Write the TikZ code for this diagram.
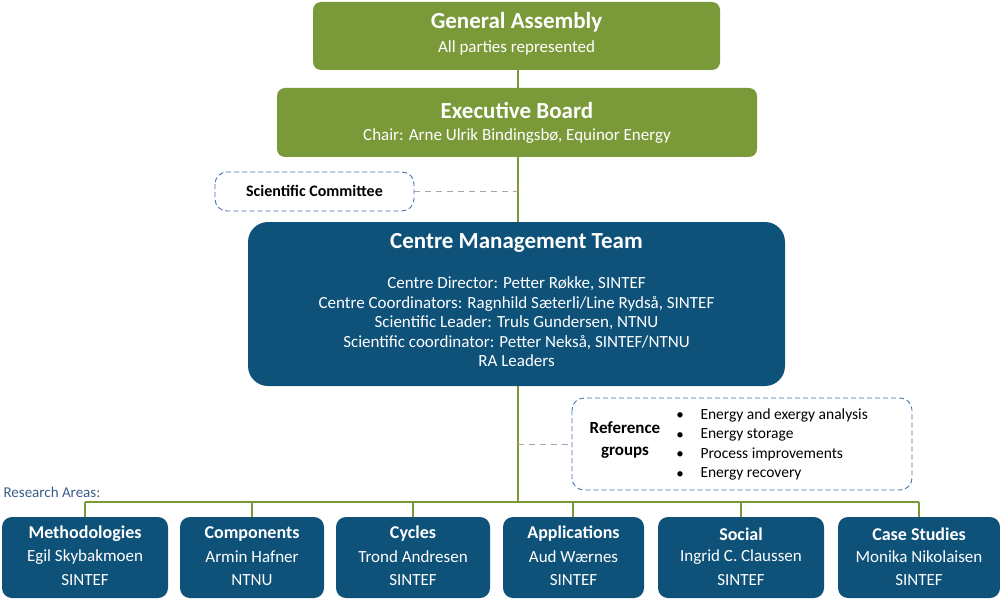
\documentclass[tikz,border=0pt]{standalone}
\usepackage{fontspec}
\setmainfont{Carlito}
\begin{document}
\begin{tikzpicture}[x=1pt,y=-1pt,
  gbox/.style={fill=grn,rounded corners=8pt,text=white,align=center,inner sep=0pt},
  bbox/.style={fill=blu,rounded corners=10pt,text=white,align=center,inner sep=0pt},
  dbox/.style={draw=dblu,dashed,fill=white,rounded corners=12pt,line width=0.9pt,dash pattern=on 5pt off 3pt},
  conn/.style={draw=grn,line width=1.6pt},
  dconn/.style={draw=gray!70,line width=1pt,dash pattern=on 6pt off 5pt}]
\definecolor{grn}{HTML}{7A9A3A}
\definecolor{blu}{HTML}{0E5179}
\definecolor{dblu}{HTML}{4A72B0}
\useasboundingbox (0,0) rectangle (1000,604);
% connectors
\draw[conn] (518,70) -- (518,502);
\draw[conn] (85,502) -- (919,502);
\foreach \x in {85,252,413,573,741,919} \draw[conn] (\x,502) -- (\x,517);
\coordinate (sc) at (518,191);
\coordinate (rg) at (518,444);
% boxes
\node[gbox,minimum width=407pt,minimum height=68pt] (ga) at (516.5,36) {};
\node[font=\bfseries\fontsize{23}{26}\selectfont,text=white] at (516.5,22) {General Assembly};
\node[font=\fontsize{17}{20}\selectfont,text=white] at (516.5,48) {All parties represented};
\node[gbox,minimum width=480pt,minimum height=69pt] (eb) at (517,122.5) {};
\node[font=\bfseries\fontsize{23}{26}\selectfont,text=white] at (517,110) {Executive Board};
\node[font=\fontsize{17}{20}\selectfont,text=white] at (517,136) {Chair: Arne Ulrik Bindingsbø, Equinor Energy};
\draw[dconn] (414,191) -- (sc);
\draw[dbox] (215,172) rectangle (414,211);
\node[font=\bfseries\fontsize{16}{19}\selectfont] (scn) at (314.5,191) {Scientific Committee};
\node[bbox,rounded corners=20pt,minimum width=537pt,minimum height=164pt] (cmt) at (516.5,304) {};
\node[font=\bfseries\fontsize{23}{26}\selectfont,text=white] at (516.5,243) {Centre Management Team};
\node[font=\fontsize{17}{19.5}\selectfont,text=white,align=center] at (516.5,322) {Centre Director: Petter Røkke, SINTEF\\Centre Coordinators: Ragnhild Sæterli/Line Rydså, SINTEF\\Scientific Leader: Truls Gundersen, NTNU\\Scientific coordinator: Petter Nekså, SINTEF/NTNU\\RA Leaders};
\draw[dconn] (rg) -- (572,444);
\draw[dbox] (572,398) rectangle (912,490);
\node[font=\bfseries\fontsize{17}{22}\selectfont,align=center] (rgn) at (625,440) {Reference\\groups};
\foreach \t [count=\i] in {Energy and exergy analysis,Energy storage,Process improvements,Energy recovery}{
  \node[font=\fontsize{15}{18}\selectfont] at (680,397+19.5*\i) {•};
  \node[font=\fontsize{15.5}{18}\selectfont,anchor=west] at (697,396+19.5*\i) {\t};
}
\node[font=\fontsize{15}{18}\selectfont,text=dblu!80!black,anchor=west] (ra) at (0,492) {Research Areas:};
\foreach \l/\r/\a/\b/\c/\n in {2/168/Methodologies/Egil Skybakmoen/SINTEF/m,180/324/Components/Armin Hafner/NTNU/co,336/490/Cycles/Trond Andresen/SINTEF/cy,503/644/Applications/Aud Wærnes/SINTEF/ap,658/824/Social/Ingrid C. Claussen/SINTEF/so,838/1000/Case Studies/Monika Nikolaisen/SINTEF/cs}{
  \fill[blu,rounded corners=10pt] (\l,517) rectangle (\r,598);
  \node[font=\bfseries\fontsize{18}{21}\selectfont,text=white] (\n) at ({(\l+\r)/2},534) {\a};
  \node[font=\fontsize{17}{20}\selectfont,text=white] at ({(\l+\r)/2},557) {\b};
  \node[font=\fontsize{17}{20}\selectfont,text=white] at ({(\l+\r)/2},580) {\c};
}
\end{tikzpicture}
\end{document}
